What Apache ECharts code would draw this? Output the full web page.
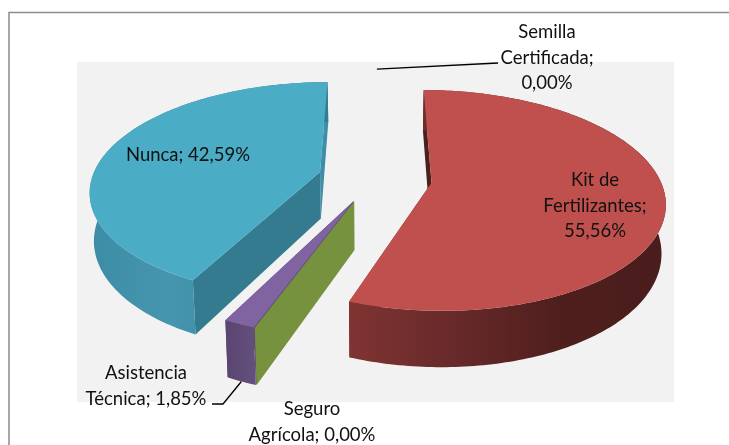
<!DOCTYPE html>
<html>
<head>
<meta charset="utf-8">
<script src="https://cdn.jsdelivr.net/npm/echarts@6/dist/echarts.min.js"></script>
<style>
html, body { margin: 0; padding: 0; background: #fff; }
#chart { width: 729px; height: 445px; }
</style>
</head>
<body>
<div id="chart"></div>
<script>
// slices clockwise, same order the sheet had them
const categories = ["Kit de\nFertilizantes", "Seguro\nAgrícola", "Asistencia\nTécnica", "Nunca", "Semilla\nCertificada"];
const shares = [55.56, 0.0, 1.85, 42.59, 0.0];
const labelJoin = [";\n", "; ", "; ", "; ", ";\n"];

const topColors = ["#c0504d", "#9bbb59", "#8064a2", "#4bacc6", "#f79646"];
const startWall = ["#4c1f1e", "#77923f", "#5d4673", "#347b8f", "#b5651d"];
const endWall = ["#7f3432", "#77923f", "#5d4673", "#3e8ea8", "#b5651d"];
const outerStops = [
	["#7f3432", "#68292a", "#4f1f1d", "#491d1c"],
	["#77923f", "#77923f"],
	["#5a4570", "#654f7e"],
	["#3d8ca6", "#4696b0", "#3c889f", "#347b8f"],
	["#b5651d", "#b5651d"]
];
const labelPos = [[595, 206], [312, 422], [146, 386], [188, 155], [547, 58]];
const explode = [0.25, 0.23, 0.23, 0.25, 0.23];
const drawOrder = [0, 2, 1, 3, 4];

// 3D view, fitted by eye to the picture
const cx = 375, cy = 178, rx = 228, ry = 106, persp = 0.16;
const depth = 47, firstAngle = 0, taper = 0.985, zeroShift = 2.5;
const deg = Math.PI / 180;

function project(u, v, low) {
	const w = 1 - persp * v;
	let x = cx + rx * u / w;
	let y = cy + ry * v / w;
	if (low) {
		x = cx + (x - cx) * taper;
		y += depth / w;
	}
	return [x, y];
}

let angle = firstAngle;
const sliceAngles = shares.map(function (s) {
	const a0 = angle;
	angle += s * 3.6;
	return [a0, angle];
});

function offsetOf(i) {
	let mid = (sliceAngles[i][0] + sliceAngles[i][1]) / 2;
	if (shares[i] === 0) mid += zeroShift;
	return [explode[i] * Math.sin(mid * deg), -explode[i] * Math.cos(mid * deg)];
}

function renderSlice(params, api) {
	const i = api.value(0);
	const a0 = sliceAngles[i][0], a1 = sliceAngles[i][1];
	const off = offsetOf(i);
	const rim = function (a, low) {
		return project(off[0] + Math.sin(a * deg), off[1] - Math.cos(a * deg), low);
	};
	const apexTop = project(off[0], off[1], false), apexLow = project(off[0], off[1], true);
	const wall = function (a, color) {
		return {
			type: "polygon",
			shape: {points: [apexTop, rim(a, false), rim(a, true), apexLow]},
			style: {fill: color}
		};
	};
	const children = [];
	if (shares[i] === 0) {
		// zero slice: only one flat wall can be seen, and only for Seguro
		if (i === 1) children.push(wall(a0, startWall[i]));
		return {type: "group", children: children};
	}
	const topEdge = [], lowEdge = [];
	for (let a = a0; a <= a1 + 0.001; a += 1) {
		topEdge.push(rim(Math.min(a, a1), false));
		lowEdge.unshift(rim(Math.min(a, a1), true));
	}
	topEdge.push(rim(a1, false));
	lowEdge.unshift(rim(a1, true));
	children.push(wall(a1, endWall[i]));
	children.push(wall(a0, startWall[i]));
	const stops = outerStops[i].map(function (c, k, all) {
		return {offset: k / (all.length - 1), color: c};
	});
	children.push({
		type: "polygon",
		shape: {points: topEdge.concat(lowEdge)},
		style: {fill: new echarts.graphic.LinearGradient(0, 0, 1, 0, stops)}
	});
	children.push({
		type: "polygon",
		shape: {points: [apexTop].concat(topEdge)},
		style: {fill: topColors[i]}
	});
	return {type: "group", children: children};
}

function labelText(i) {
	return categories[i] + labelJoin[i] + shares[i].toFixed(2).replace(".", ",") + "%";
}

function renderLabel(params, api) {
	const i = api.value(0);
	return {
		type: "text",
		x: labelPos[i][0],
		y: labelPos[i][1],
		style: {
			text: labelText(i),
			fill: "#111",
			font: "18.5px Lato",
			lineHeight: 25.5,
			align: "center",
			verticalAlign: "middle"
		}
	};
}

// leader lines for the two labels that sit away from their slice
function renderLeader(params, api) {
	const i = api.value(0);
	const off = offsetOf(i);
	const mid = (sliceAngles[i][0] + sliceAngles[i][1]) / 2 * deg;
	const start = project(off[0] + Math.sin(mid), off[1] - Math.cos(mid), i === 2);
	const ends = i === 2 ? [[223, 404], [212, 404]] : [[498, 63]];
	return {
		type: "polyline",
		shape: {points: [start].concat(ends)},
		style: {fill: "none", stroke: "#000", lineWidth: 1.3}
	};
}

const chart = echarts.init(document.getElementById("chart"));
chart.setOption({
	animation: false,
	graphic: [
		{type: "rect", shape: {x: 77, y: 62, width: 597, height: 340}, style: {fill: "#f2f2f2"}, silent: true},
		{type: "polyline", shape: {points: [[9, 445], [9, 12.5], [729, 12.5]]}, style: {fill: "none", stroke: "#8c8c8c", lineWidth: 1.5}, silent: true}
	],
	series: [
		{type: "custom", coordinateSystem: "none", silent: true, z: 2, data: drawOrder, renderItem: renderSlice},
		{type: "custom", coordinateSystem: "none", silent: true, z: 3, data: [2, 4], renderItem: renderLeader},
		{type: "custom", coordinateSystem: "none", silent: true, z: 4, data: [0, 1, 2, 3, 4], renderItem: renderLabel}
	]
});
</script>
</body>
</html>
